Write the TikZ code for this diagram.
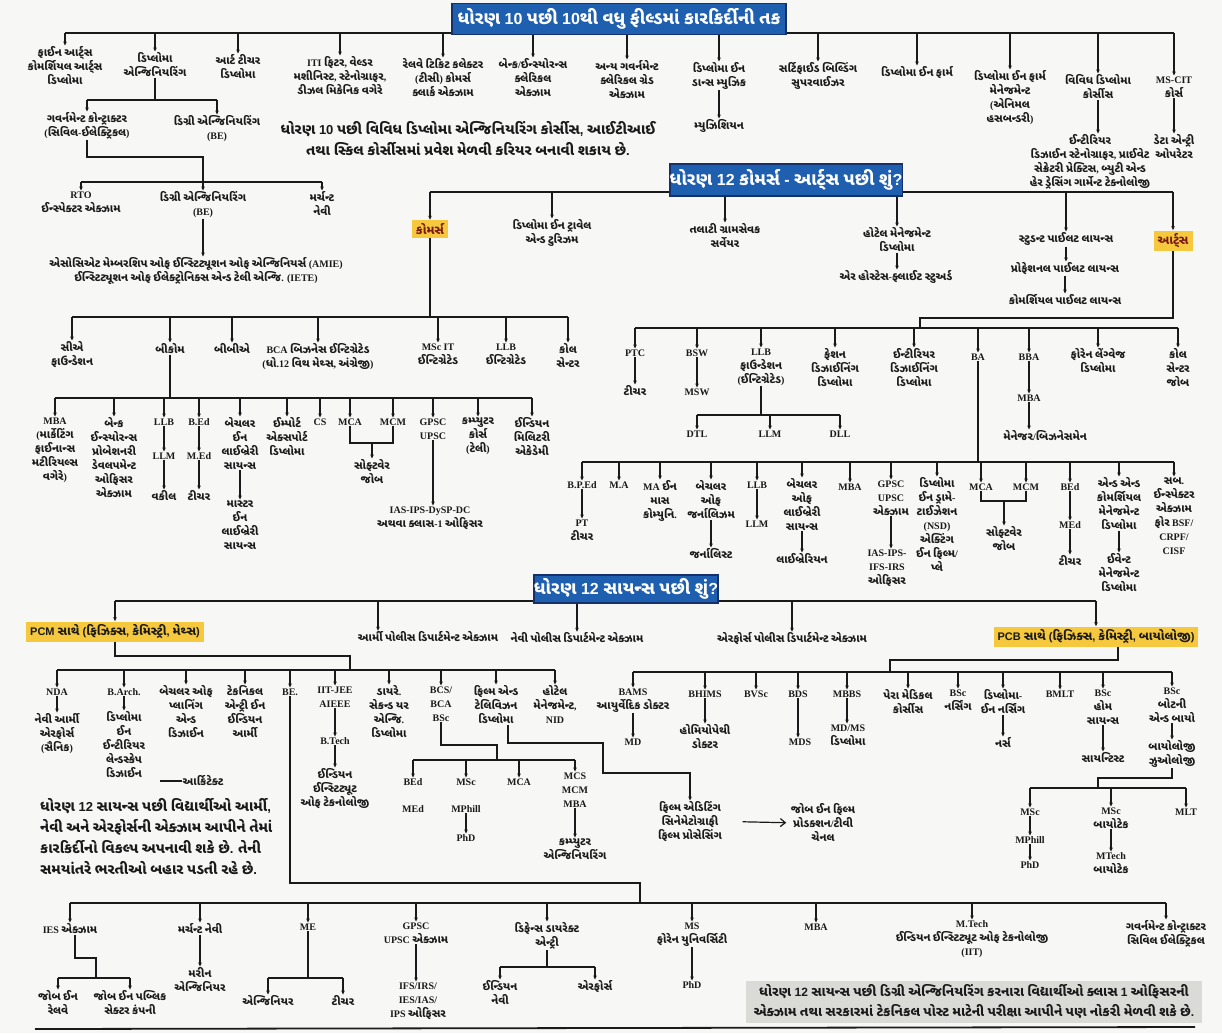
\documentclass[tikz,border=0pt]{standalone}
\usepackage{fontspec}
\setmainfont{Liberation Serif}
\setsansfont{Liberation Sans}
\newfontfamily\gufont{Noto Sans Gujarati UI}[Script=Gujarati, Scale=1.12]
\usetikzlibrary{arrows.meta}

% switch to the Gujarati face automatically for runs of Gujarati letters
\newcommand\gjlatin{\rmfamily}
\newXeTeXintercharclass\gjclass
\newcount\gjcnt
\gjcnt="0A80
\loop\ifnum\gjcnt<"0B00
  \XeTeXcharclass\gjcnt=\gjclass
  \advance\gjcnt by 1
\repeat
\XeTeXcharclass"200C=\gjclass
\XeTeXcharclass"200D=\gjclass
\XeTeXinterchartoks 0 \gjclass = {\gufont}
\XeTeXinterchartoks 4095 \gjclass = {\gufont}
\XeTeXinterchartoks \gjclass 0 = {\gjlatin}
\XeTeXinterchartoks \gjclass 4095 = {\gjlatin}
\XeTeXinterchartokenstate=1

\definecolor{paper}{HTML}{F7F7F5}
\definecolor{ttlblue}{HTML}{1F5FAF}
\definecolor{ttledge}{HTML}{16306A}
\definecolor{hilite}{HTML}{F6C83E}
\definecolor{maroon}{HTML}{7A1A12}
\definecolor{notegray}{HTML}{DADAD6}
\definecolor{ink}{HTML}{1A1A1A}

\tikzset{
  lbl/.style={anchor=north, align=center, inner sep=0.5pt, text=ink,
    font=\bfseries\fontsize{10}{14}\selectfont},
  wire/.style={draw=ink, line width=1.2pt},
  tip/.style={wire, shorten >=0.5pt, -{Stealth[length=4pt,width=3.6pt]}},
  ttl/.style={fill=ttlblue, draw=ttledge, line width=1.6pt, text=white, inner sep=0pt,
    font=\sffamily\let\gjlatin\sffamily\bfseries\fontsize{16}{20}\selectfont},
  tag/.style={fill=hilite, inner xsep=4pt, inner ysep=3pt, text=ink,
    font=\sffamily\let\gjlatin\sffamily\bfseries\fontsize{11}{14}\selectfont},
  note/.style={align=center, inner sep=0pt, text=ink,
    font=\sffamily\let\gjlatin\sffamily\bfseries\fontsize{13}{21}\selectfont},
}

\begin{document}
\begin{tikzpicture}[x=1pt,y=-1pt]
\fill[paper] (0,0) rectangle (1222,1033);
\useasboundingbox (0,0) rectangle (1222,1033);

% ================= after standard 10 =================
\coordinate (b1) at (0,33);
\node[lbl] (fa) at (65,46) {ફાઈન આર્ટ્સ\\કોમર્શિયલ આર્ટ્સ\\ડિપ્લોમા};
\node[lbl] (de) at (155,52) {ડિપ્લોમા\\એન્જિનિયરિંગ};
\node[lbl] (artt) at (238,54) {આર્ટ ટીચર\\ડિપ્લોમા};
\node[lbl] (iti) at (340,56) {ITI ફિટર, વેલ્ડર\\મશીનિસ્ટ, સ્ટેનોગ્રાફર,\\ડીઝલ મિકેનિક વગેરે};
\node[lbl] (rtc) at (443,58) {રેલવે ટિકિટ કલેક્ટર\\(ટીસી) કોમર્સ\\ક્લાર્ક એક્ઝામ};
\node[lbl] (bank) at (533,58) {બેન્ક/ઈન્સ્યોરન્સ\\ક્લેરિકલ\\એક્ઝામ};
\node[lbl] (gov) at (627,60) {અન્ય ગવર્નમેન્ટ\\ક્લેરિકલ ગ્રેડ\\એક્ઝામ};
\node[lbl] (dance) at (719,62) {ડિપ્લોમા ઈન\\ડાન્સ મ્યુઝિક};
\node[lbl] (musi) at (719,119) {મ્યુઝિશિયન};
\node[lbl] (cbs) at (818,62) {સર્ટિફાઈડ બિલ્ડિંગ\\સુપરવાઈઝર};
\node[lbl] (pharm) at (917,66) {ડિપ્લોમા ઈન ફાર્મ};
\node[lbl] (farm) at (1010,70) {ડિપ્લોમા ઈન ફાર્મ\\મેનેજમેન્ટ\\(એનિમલ\\હસબન્ડરી)};
\node[lbl] (vivdh) at (1098,74) {વિવિધ ડિપ્લોમા\\કોર્સીસ};
\node[lbl] (inter) at (1090,134) {ઈન્ટીરિયર\\ડિઝાઈન સ્ટેનોગ્રાફર, પ્રાઈવેટ\\સેક્રેટરી પ્રેક્ટિસ, બ્યુટી એન્ડ\\હેર ડ્રેસિંગ ગાર્મેન્ટ ટેક્નોલોજી};
\node[lbl] (mscit) at (1174,76) {MS-CIT\\કોર્સ};
\node[lbl] (deo) at (1174,134) {ડેટા એન્ટ્રી\\ઓપરેટર};

\draw[wire] (fa.north |- b1) -- (mscit.north |- b1);
\foreach \n in {fa,de,artt,iti,rtc,bank,gov,dance,cbs,pharm,farm,vivdh,mscit}
  \draw[tip] (\n.north |- b1) -- (\n.north);
\draw[tip] (dance.south) -- (musi.north);
\draw[tip] (vivdh.south) -- (vivdh.south |- inter.north);
\draw[tip] (mscit.south) -- (deo.north);

% diploma engineering branch
\coordinate (b2) at (0,100);
\node[lbl] (gc) at (87,112) {ગવર્નમેન્ટ કોન્ટ્રાક્ટર\\(સિવિલ-ઈલેક્ટ્રિકલ)};
\node[lbl] (beA) at (217,115) {ડિગ્રી એન્જિનિયરિંગ\\(BE)};
\draw[wire] (de.south) -- (de.south |- b2);
\draw[wire] (gc.north |- b2) -- (beA.north |- b2);
\foreach \n in {gc,beA} \draw[tip] (\n.north |- b2) -- (\n.north);

\coordinate (b3) at (0,182);
\coordinate (gcj) at (0,157);
\node[lbl] (rto) at (81,191) {RTO\\ઈન્સ્પેક્ટર એક્ઝામ};
\node[lbl] (beB) at (203,191) {ડિગ્રી એન્જિનિયરિંગ\\(BE)};
\node[lbl] (mn) at (322,191) {મર્ચન્ટ\\નેવી};
\draw[wire] (rto.north |- b3) -- (mn.north |- b3);
\foreach \n in {rto,mn} \draw[tip] (\n.north |- b3) -- (\n.north);
\draw[tip] (gc.south) -- (gc.south |- gcj) -| (beB.north);
\node[lbl] (amie) at (196,257) {એસોસિએટ મેમ્બરશિપ ઓફ ઈન્સ્ટિટ્યૂશન ઓફ એન્જિનિયર્સ (AMIE)\\ઈન્સ્ટિટ્યૂશન ઓફ ઈલેક્ટ્રોનિક્સ એન્ડ ટેલી એન્જિ. (IETE)};
\draw[tip] (beB.south) -- (beB.south |- amie.north);

\node[note, anchor=north] (note10) at (468,121) {ધોરણ 10 પછી વિવિધ ડિપ્લોમા એન્જિનિયરિંગ કોર્સીસ, આઈટીઆઈ\\તથા સ્કિલ કોર્સીસમાં પ્રવેશ મેળવી કરિયર બનાવી શકાય છે.};

% ================= after standard 12 commerce / arts =================
\coordinate (b4) at (0,192);
\node[tag, text=maroon] (com) at (430,229) {કોમર્સ};
\node[lbl] (trav) at (552,219) {ડિપ્લોમા ઈન ટ્રાવેલ\\એન્ડ ટુરિઝમ};
\node[lbl] (tal) at (725,223) {તલાટી ગ્રામસેવક\\સર્વેયર};
\node[lbl] (hotel) at (897,227) {હોટેલ મેનેજમેન્ટ\\ડિપ્લોમા};
\node[lbl] (air) at (896,270) {એર હોસ્ટેસ-ફ્લાઈટ સ્ટુઅર્ડ};
\node[lbl] (spl) at (1066,232) {સ્ટુડન્ટ પાઈલટ લાયન્સ};
\node[lbl] (ppl) at (1065,262) {પ્રોફેશનલ પાઈલટ લાયન્સ};
\node[lbl] (cpl) at (1065,294) {કોમર્શિયલ પાઈલટ લાયન્સ};
\node[tag, text=maroon] (arts) at (1173,241) {આર્ટ્સ};
\draw[wire] (com.north |- b4) -- (arts.north |- b4);
\foreach \n in {com,trav,tal,hotel,spl,arts} \draw[tip] (\n.north |- b4) -- (\n.north);
\draw[tip] (hotel.south) -- (hotel.south |- air.north);
\draw[tip] (spl.south) -- (spl.south |- ppl.north);
\draw[tip] (ppl.south) -- (cpl.north);

% commerce
\coordinate (b5) at (0,317);
\node[lbl] (ca) at (72,341) {સીએ\\ફાઉન્ડેશન};
\node[lbl] (bcom) at (170,343) {બીકોમ};
\node[lbl] (bba1) at (232,343) {બીબીએ};
\node[lbl] (bca) at (318,343) {BCA બિઝનેસ ઈન્ટિગ્રેટેડ\\(ધો.12 વિથ મેથ્સ, અંગ્રેજી)};
\node[lbl] (mscit2) at (438,343) {MSc IT\\ઈન્ટિગ્રેટેડ};
\node[lbl] (llbi) at (506,343) {LLB\\ઈન્ટિગ્રેટેડ};
\node[lbl] (call1) at (568,343) {કોલ\\સેન્ટર};
\draw[wire] (com.south) -- (com.south |- b5);
\draw[wire] (ca.north |- b5) -- (call1.north |- b5);
\foreach \n in {ca,bcom,bba1,bca,mscit2,llbi,call1} \draw[tip] (\n.north |- b5) -- (\n.north);

\coordinate (b6) at (0,398);
\node[lbl] (mba1) at (55,417) {MBA\\(માર્કેટિંગ\\ફાઈનાન્સ\\મટીરિયલ્સ\\વગેરે)};
\node[lbl] (bnk) at (114,417) {બેન્ક\\ઈન્સ્યોરન્સ\\પ્રોબેશનરી\\ડેવલપમેન્ટ\\ઓફિસર\\એક્ઝામ};
\node[lbl] (llb1) at (164,418) {LLB};
\node[lbl] (llm1) at (164,452) {LLM};
\node[lbl] (vak) at (164,490) {વકીલ};
\node[lbl] (bed1) at (199,418) {B.Ed};
\node[lbl] (med1) at (199,452) {M.Ed};
\node[lbl] (tch1) at (199,490) {ટીચર};
\node[lbl] (bls) at (240,417) {બેચલર\\ઈન\\લાઈબ્રેરી\\સાયન્સ};
\node[lbl] (mls) at (240,500) {માસ્ટર\\ઈન\\લાઈબ્રેરી\\સાયન્સ};
\node[lbl] (ied) at (287,417) {ઈમ્પોર્ટ\\એક્સપોર્ટ\\ડિપ્લોમા};
\node[lbl] (cs) at (320,418) {CS};
\node[lbl] (mca1) at (350,418) {MCA};
\node[lbl] (mcm1) at (393,418) {MCM};
\node[lbl] (sw1) at (372,459) {સોફ્ટવેર\\જોબ};
\node[lbl] (gpsc1) at (433,418) {GPSC\\UPSC};
\node[lbl] (ias1) at (430,506) {IAS-IPS-DySP-DC\\અથવા ક્લાસ-1 ઓફિસર};
\node[lbl] (comp) at (478,417) {કમ્પ્યુટર\\કોર્સ\\(ટેલી)};
\node[lbl] (ima) at (532,417) {ઈન્ડિયન\\મિલિટરી\\એકેડેમી};
\draw[wire] (bcom.south) -- (bcom.south |- b6);
\draw[wire] (mba1.north |- b6) -- (ima.north |- b6);
\foreach \n in {mba1,bnk,llb1,bed1,bls,ied,cs,mca1,mcm1,gpsc1,comp,ima}
  \draw[tip] (\n.north |- b6) -- (\n.north);
\draw[tip] (llb1.south) -- (llm1.north);
\draw[tip] (llm1.south) -- (vak.north);
\draw[tip] (bed1.south) -- (med1.north);
\draw[tip] (med1.south) -- (tch1.north);
\draw[tip] (bls.south) -- (mls.north);
\coordinate (k1) at (0,443);
\draw[wire] (mca1.south) -- (mca1.south |- k1) -- (mcm1.south |- k1) -- (mcm1.south);
\draw[tip] (sw1.north |- k1) -- (sw1.north);
\draw[tip] (gpsc1.south) -- (gpsc1.south |- ias1.north);

% arts
\coordinate (b7) at (0,328);
\coordinate (aj) at (920,318);
\node[lbl] (ptc) at (635,349) {PTC};
\node[lbl] (tch2) at (635,385) {ટીચર};
\node[lbl] (bsw) at (697,349) {BSW};
\node[lbl] (msw) at (697,388) {MSW};
\node[lbl] (llbf) at (761,348) {LLB\\ફાઉન્ડેશન\\(ઈન્ટિગ્રેટેડ)};
\node[lbl] (fash) at (835,348) {ફેશન\\ડિઝાઈનિંગ\\ડિપ્લોમા};
\node[lbl] (intd) at (914,348) {ઈન્ટીરિયર\\ડિઝાઈનિંગ\\ડિપ્લોમા};
\node[lbl] (ba) at (978,353) {BA};
\node[lbl] (bba2) at (1029,353) {BBA};
\node[lbl] (mba2) at (1029,394) {MBA};
\node[lbl] (mgr) at (1045,430) {મેનેજર/બિઝનેસમેન};
\node[lbl] (frn) at (1098,348) {ફોરેન લેંગ્વેજ\\ડિપ્લોમા};
\node[lbl] (call2) at (1178,348) {કોલ\\સેન્ટર\\જોબ};
\draw[wire] (arts.south) |- (aj) -- (aj |- b7);
\draw[wire] (ptc.north |- b7) -- (call2.north |- b7);
\foreach \n in {ptc,bsw,llbf,fash,intd,ba,bba2,frn,call2} \draw[tip] (\n.north |- b7) -- (\n.north);
\draw[tip] (ptc.south) -- (tch2.north);
\draw[tip] (bsw.south) -- (msw.north);
\draw[tip] (bba2.south) -- (mba2.north);
\draw[tip] (mba2.south) -- (mba2.south |- mgr.north);

\coordinate (b8) at (0,415);
\node[lbl] (dtl) at (697,430) {DTL};
\node[lbl] (llm2) at (770,430) {LLM};
\node[lbl] (dll) at (840,430) {DLL};
\draw[wire] (llbf.south) -- (llbf.south |- b8);
\draw[wire] (dtl.north |- b8) -- (dll.north |- b8);
\foreach \n in {dtl,llm2,dll} \draw[tip] (\n.north |- b8) -- (\n.north);

\coordinate (b9) at (0,462);
\node[lbl] (bped) at (582,481) {B.P.Ed};
\node[lbl] (pt) at (582,519) {PT\\ટીચર};
\node[lbl] (ma) at (619,481) {M.A};
\node[lbl] (mamc) at (660,480) {MA ઈન\\માસ\\કોમ્યુનિ.};
\node[lbl] (bj) at (711,480) {બેચલર\\ઓફ\\જર્નાલિઝમ};
\node[lbl] (jour) at (711,548) {જર્નાલિસ્ટ};
\node[lbl] (llb3) at (757,481) {LLB};
\node[lbl] (llm3) at (757,520) {LLM};
\node[lbl] (blis) at (802,478) {બેચલર\\ઓફ\\લાઈબ્રેરી\\સાયન્સ};
\node[lbl] (lib) at (802,553) {લાઈબ્રેરિયન};
\node[lbl] (mba3) at (850,483) {MBA};
\node[lbl] (gpsc2) at (891,480) {GPSC\\UPSC\\એક્ઝામ};
\node[lbl] (ias2) at (887,549) {IAS-IPS-\\IFS-IRS\\ઓફિસર};
\node[lbl] (dram) at (937,477) {ડિપ્લોમા\\ઈન ડ્રામે-\\ટાઈઝેશન\\(NSD)\\એક્ટિંગ\\ઈન ફિલ્મ/\\પ્લે};
\node[lbl] (mca2) at (981,483) {MCA};
\node[lbl] (mcm2) at (1026,483) {MCM};
\node[lbl] (sw2) at (1004,526) {સોફ્ટવેર\\જોબ};
\node[lbl] (bed2) at (1070,483) {BEd};
\node[lbl] (med2) at (1070,521) {MEd};
\node[lbl] (tch3) at (1070,555) {ટીચર};
\node[lbl] (adc) at (1119,477) {એન્ડ એન્ડ\\કોમર્શિયલ\\મેનેજમેન્ટ\\ડિપ્લોમા};
\node[lbl] (evt) at (1119,553) {ઈવેન્ટ\\મેનેજમેન્ટ\\ડિપ્લોમા};
\node[lbl] (sub) at (1174,477) {સબ.\\ઈન્સ્પેક્ટર\\એક્ઝામ\\ફોર BSF/\\CRPF/\\CISF};
\draw[wire] (ba.south) -- (ba.south |- b9);
\draw[wire] (bped.north |- b9) -- (sub.north |- b9);
\foreach \n in {bped,ma,mamc,bj,llb3,blis,mba3,gpsc2,dram,mca2,mcm2,bed2,adc,sub}
  \draw[tip] (\n.north |- b9) -- (\n.north);
\draw[tip] (bped.south) -- (pt.north);
\draw[tip] (bj.south) -- (jour.north);
\draw[tip] (llb3.south) -- (llm3.north);
\draw[tip] (blis.south) -- (lib.north);
\draw[tip] (gpsc2.south) -- (gpsc2.south |- ias2.north);
\coordinate (k2) at (0,501);
\draw[wire] (mca2.south) -- (mca2.south |- k2) -- (mcm2.south |- k2) -- (mcm2.south);
\draw[tip] (sw2.north |- k2) -- (sw2.north);
\draw[tip] (bed2.south) -- (med2.north);
\draw[tip] (med2.south) -- (tch3.north);
\draw[tip] (adc.south) -- (evt.north);

% ================= after standard 12 science =================
\coordinate (b10) at (0,601);
\node[tag, minimum width=176pt] (pcm) at (115,632) {PCM સાથે (ફિઝિક્સ, કેમિસ્ટ્રી, મેથ્સ)};
\node[lbl, anchor=center] (army) at (428,637) {આર્મી પોલીસ ડિપાર્ટમેન્ટ એક્ઝામ};
\node[lbl, anchor=center] (navy) at (577,638) {નેવી પોલીસ ડિપાર્ટમેન્ટ એક્ઝામ};
\node[lbl, anchor=center] (afp) at (792,639) {એરફોર્સ પોલીસ ડિપાર્ટમેન્ટ એક્ઝામ};
\node[tag, minimum width=196pt] (pcb) at (1096,637) {PCB સાથે (ફિઝિક્સ, કેમિસ્ટ્રી, બાયોલોજી)};
\draw[wire] (pcm.north |- b10) -- (pcb.north |- b10);
\foreach \n in {pcm,navy,afp,pcb} \draw[tip] (\n.north |- b10) -- (\n.north);
\draw[tip] ([xshift=-50pt]army.north |- b10) -- ([xshift=-50pt]army.north);

% PCM branch
\coordinate (b11) at (0,670);
\coordinate (pj) at (350,656);
\node[lbl] (nda) at (57,688) {NDA};
\node[lbl] (sain) at (57,713) {નેવી આર્મી\\એરફોર્સ\\(સૈનિક)};
\node[lbl] (barch) at (124,688) {B.Arch.};
\node[lbl] (dint) at (124,711) {ડિપ્લોમા\\ઈન\\ઈન્ટીરિયર\\લેન્ડસ્કેપ\\ડિઝાઈન};
\node[lbl, anchor=west] (arch) at (182,781) {આર્કિટેક્ટ};
\node[lbl] (bpd) at (186,685) {બેચલર ઓફ\\પ્લાનિંગ\\એન્ડ\\ડિઝાઈન};
\node[lbl] (tea) at (245,685) {ટેકનિકલ\\એન્ટ્રી ઈન\\ઈન્ડિયન\\આર્મી};
\node[lbl] (be3) at (290,688) {BE.};
\node[lbl] (iit) at (335,686) {IIT-JEE\\AIEEE};
\node[lbl] (btech) at (335,737) {B.Tech};
\node[lbl] (iitn) at (335,768) {ઈન્ડિયન\\ઈન્સ્ટિટ્યૂટ\\ઓફ ટેકનોલોજી};
\node[lbl] (dsy) at (389,685) {ડાયરે.\\સેકન્ડ યર\\એન્જિ.\\ડિપ્લોમા};
\node[lbl] (bcs) at (441,686) {BCS/\\BCA\\BSc};
\node[lbl] (ftd) at (496,685) {ફિલ્મ એન્ડ\\ટેલિવિઝન\\ડિપ્લોમા};
\node[lbl] (htl) at (555,685) {હોટેલ\\મેનેજમેન્ટ,\\NID};
\draw[wire] (pcm.south) |- (pj) -- (pj |- b11);
\draw[wire] (nda.north |- b11) -- (htl.north |- b11);
\foreach \n in {nda,barch,bpd,tea,be3,iit,dsy,bcs,ftd,htl} \draw[tip] (\n.north |- b11) -- (\n.north);
\draw[tip] (nda.south) -- (sain.north);
\draw[tip] (barch.south) -- (dint.north);
\draw[wire] (arch.west) -- ++(-22,0);
\draw[tip] (iit.south) -- (btech.north);
\draw[tip] (btech.south) -- (iitn.north);

\coordinate (b12) at (0,760);
\coordinate (cj) at (497,745);
\node[lbl] (bed3) at (413,778) {BEd};
\node[lbl] (med3) at (413,805) {MEd};
\node[lbl] (msc1) at (466,778) {MSc};
\node[lbl] (mph1) at (466,805) {MPhill};
\node[lbl] (phd1) at (466,834) {PhD};
\node[lbl] (mca3) at (519,778) {MCA};
\node[lbl] (mcs) at (575,772) {MCS\\MCM\\MBA};
\node[lbl] (ceng) at (575,838) {કમ્પ્યુટર\\એન્જિનિયરિંગ};
\draw[wire] (bcs.south) |- (cj) -- (cj |- b12);
\draw[wire] (bed3.north |- b12) -- (mcs.north |- b12);
\foreach \n in {bed3,msc1,mca3,mcs} \draw[tip] (\n.north |- b12) -- (\n.north);
\draw[tip] (mph1.south) -- (phd1.north);
\draw[tip] (mcs.south) -- (ceng.north);

\coordinate (f1) at (603,743);
\coordinate (f2) at (603,773);
\node[lbl] (fe) at (690,801) {ફિલ્મ એડિટિંગ\\સિનેમેટોગ્રાફી\\ફિલ્મ પ્રોસેસિંગ};
\node[lbl] (jf) at (823,803) {જોબ ઈન ફિલ્મ\\પ્રોડક્શન/ટીવી\\ચેનલ};
\draw[tip] ([xshift=12pt]ftd.south) |- (f1) -- (f2) -| (fe.north);
\draw[wire, -{Straight Barb[length=5pt,width=8pt]}] ([xshift=20pt]fe.east) -- ([xshift=-4pt]jf.west);

\node[note, align=left, anchor=north west] (pcmnote) at (40,798) {ધોરણ 12 સાયન્સ પછી વિદ્યાર્થીઓ આર્મી,\\નેવી અને એરફોર્સની એક્ઝામ આપીને તેમાં\\કારકિર્દીનો વિકલ્પ અપનાવી શકે છે. તેની\\સમયાંતરે ભરતીઓ બહાર પડતી રહે છે.};

% degree engineering branch
\coordinate (bj1) at (290,883);
\coordinate (bj2) at (640,883);
\coordinate (b13) at (0,903);
\node[lbl] (ies) at (70,923) {IES એક્ઝામ};
\node[lbl] (mnv) at (200,923) {મર્ચન્ટ નેવી};
\node[lbl] (mare) at (200,967) {મરીન\\એન્જિનિયર};
\node[lbl] (me) at (308,923) {ME};
\node[lbl] (gpsc3) at (416,922) {GPSC\\UPSC એક્ઝામ};
\node[lbl] (ifs) at (418,982) {IFS/IRS/\\IES/IAS/\\IPS ઓફિસર};
\node[lbl] (dde) at (547,922) {ડિફેન્સ ડાયરેક્ટ\\એન્ટ્રી};
\node[lbl] (ms) at (692,922) {MS\\ફોરેન યુનિવર્સિટી};
\node[lbl] (phd3) at (692,981) {PhD};
\node[lbl] (mba4) at (816,923) {MBA};
\node[lbl] (mtech) at (972,920) {M.Tech\\ઈન્ડિયન ઈન્સ્ટિટ્યૂટ ઓફ ટેકનોલોજી\\(IIT)};
\node[lbl] (gcc) at (1166,920) {ગવર્નમેન્ટ કોન્ટ્રાક્ટર\\સિવિલ ઈલેક્ટ્રિકલ};
\draw[wire] (be3.south) -- (bj1) -- (bj2) -- (bj2 |- b13);
\draw[wire] (ies.north |- b13) -- (gcc.north |- b13);
\foreach \n in {ies,mnv,me,gpsc3,dde,ms,mba4,mtech,gcc} \draw[tip] (\n.north |- b13) -- (\n.north);
\draw[tip] (mnv.south) -- (mare.north);
\draw[tip] (gpsc3.south) -- (gpsc3.south |- ifs.north);
\draw[tip] (ms.south) -- (phd3.north);

\coordinate (b14) at (0,978);
\coordinate (ij) at (96,958);
\node[lbl] (jr) at (58,990) {જોબ ઈન\\રેલવે};
\node[lbl] (jp) at (130,990) {જોબ ઈન પબ્લિક\\સેક્ટર કંપની};
\node[lbl] (eng) at (268,995) {એન્જિનિયર};
\node[lbl] (tch4) at (343,995) {ટીચર};
\draw[wire] ([xshift=5pt]ies.south) |- (ij) -- (ij |- b14);
\draw[wire] (jr.north |- b14) -- (jp.north |- b14);
\foreach \n in {jr,jp} \draw[tip] (\n.north |- b14) -- (\n.north);
\draw[wire] (me.south) -- (me.south |- b14);
\draw[wire] (eng.north |- b14) -- (tch4.north |- b14);
\foreach \n in {eng,tch4} \draw[tip] (\n.north |- b14) -- (\n.north);

\coordinate (b15) at (0,967);
\node[lbl] (inavy) at (500,980) {ઈન્ડિયન\\નેવી};
\node[lbl] (iaf) at (595,980) {એરફોર્સ};
\draw[wire] (dde.south) -- (dde.south |- b15);
\draw[wire] (inavy.north |- b15) -- (iaf.north |- b15);
\foreach \n in {inavy,iaf} \draw[tip] (\n.north |- b15) -- (\n.north);

% PCB branch
\coordinate (b16) at (0,672);
\coordinate (qj) at (890,660);
\node[lbl] (bams) at (633,688) {BAMS\\આયુર્વેદિક ડોક્ટર};
\node[lbl] (md) at (633,738) {MD};
\node[lbl] (bhms) at (705,690) {BHIMS};
\node[lbl] (homeo) at (705,724) {હોમિયોપેથી\\ડોક્ટર};
\node[lbl] (bvsc) at (756,690) {BVSc};
\node[lbl] (bds) at (798,690) {BDS};
\node[lbl] (mds) at (800,738) {MDS};
\node[lbl] (mbbs) at (847,690) {MBBS};
\node[lbl] (mdms) at (848,724) {MD/MS\\ડિપ્લોમા};
\node[lbl] (para) at (908,689) {પેરા મેડિકલ\\કોર્સીસ};
\node[lbl] (bscn) at (958,689) {BSc\\નર્સિંગ};
\node[lbl] (dipn) at (1003,689) {ડિપ્લોમા-\\ઈન નર્સિંગ};
\node[lbl] (nurse) at (1003,737) {નર્સ};
\node[lbl] (bmlt) at (1060,690) {BMLT};
\node[lbl] (bsch) at (1103,689) {BSc\\હોમ\\સાયન્સ};
\node[lbl] (sci) at (1103,752) {સાયન્ટિસ્ટ};
\node[lbl] (bot) at (1172,687) {BSc\\બોટની\\એન્ડ બાયો};
\node[lbl] (bz) at (1172,740) {બાયોલોજી\\ઝુઓલોજી};
\draw[wire] ([xshift=22pt]pcb.south) |- (qj) -- (qj |- b16);
\draw[wire] (bams.north |- b16) -- (bot.north |- b16);
\foreach \n in {bams,bhms,bvsc,bds,mbbs,para,bscn,dipn,bmlt,bsch,bot} \draw[tip] (\n.north |- b16) -- (\n.north);
\draw[tip] (bams.south) -- (md.north);
\draw[tip] (bhms.south) -- (homeo.north);
\draw[tip] (bds.south) -- (bds.south |- mds.north);
\draw[tip] (mbbs.south) -- (mbbs.south |- mdms.north);
\draw[tip] (dipn.south) -- (nurse.north);
\draw[tip] (bsch.south) -- (sci.north);
\draw[tip] (bot.south) -- (bz.north);

\coordinate (b17) at (0,788);
\coordinate (zj) at (1098,778);
\node[lbl] (msc2) at (1030,808) {MSc};
\node[lbl] (mph2) at (1030,836) {MPhill};
\node[lbl] (phd2) at (1030,861) {PhD};
\node[lbl] (mscb) at (1111,807) {MSc\\બાયોટેક};
\node[lbl] (mtb) at (1111,852) {MTech\\બાયોટેક};
\node[lbl] (mlt) at (1186,808) {MLT};
\draw[wire] (bz.south) |- (zj) -- (zj |- b17);
\draw[wire] (msc2.north |- b17) -- (mlt.north |- b17);
\foreach \n in {msc2,mscb,mlt} \draw[tip] (\n.north |- b17) -- (\n.north);
\draw[tip] (msc2.south) -- (mph2.north);
\draw[tip] (mph2.south) -- (phd2.north);
\draw[tip] (mscb.south) -- (mtb.north);

% closing note and rule
\node[note, fill=notegray, inner xsep=8pt, inner ysep=4pt, font=\sffamily\let\gjlatin\sffamily\bfseries\fontsize{12}{20}\selectfont] (bnote) at (974,1002) {ધોરણ 12 સાયન્સ પછી ડિગ્રી એન્જિનિયરિંગ કરનારા વિદ્યાર્થીઓ ક્લાસ 1 ઓફિસરની\\એક્ઝામ તથા સરકારમાં ટેકનિકલ પોસ્ટ માટેની પરીક્ષા આપીને પણ નોકરી મેળવી શકે છે.};
\draw[line width=1.8pt, ink] (35,1029) -- (1195,1027);

% section headings, drawn over the bus lines
\node[ttl, minimum width=334pt, minimum height=31pt] (t10) at (619,19) {ધોરણ 10 પછી 10થી વધુ ફીલ્ડમાં કારકિર્દીની તક};
\node[ttl, minimum width=228pt, minimum height=32pt] (t12c) at (786,180) {ધોરણ 12 કોમર્સ - આર્ટ્સ પછી શું?};
\node[ttl, minimum width=172pt, minimum height=28pt] (t12s) at (626,589) {ધોરણ 12 સાયન્સ પછી શું?};
\end{tikzpicture}
\end{document}
